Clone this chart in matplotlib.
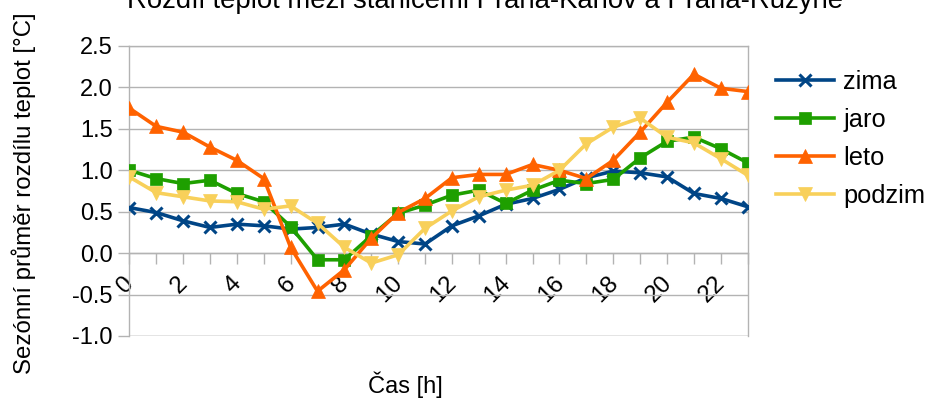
import matplotlib
matplotlib.use("Agg")
import matplotlib.pyplot as plt
import matplotlib.transforms as mtrans
import numpy as np

plt.rcParams['font.family'] = ['Liberation Sans', 'DejaVu Sans']

hours = list(range(24))
zima = [0.55, 0.49, 0.39, 0.31, 0.35, 0.33, 0.29, 0.31, 0.35, 0.23, 0.14, 0.11,
        0.33, 0.45, 0.59, 0.66, 0.77, 0.91, 0.99, 0.97, 0.92, 0.72, 0.66, 0.56]
jaro = [1.00, 0.90, 0.84, 0.88, 0.72, 0.62, 0.32, -0.08, -0.08, 0.21, 0.48, 0.58,
        0.70, 0.76, 0.60, 0.76, 0.88, 0.84, 0.89, 1.15, 1.35, 1.40, 1.26, 1.09]
leto = [1.75, 1.53, 1.46, 1.28, 1.12, 0.90, 0.07, -0.46, -0.20, 0.18, 0.49, 0.66,
        0.91, 0.95, 0.95, 1.07, 1.00, 0.90, 1.12, 1.46, 1.82, 2.16, 1.99, 1.95]
podzim = [0.92, 0.73, 0.68, 0.63, 0.62, 0.53, 0.57, 0.36, 0.07, -0.12, -0.02, 0.30,
          0.51, 0.68, 0.76, 0.82, 1.00, 1.32, 1.52, 1.63, 1.40, 1.33, 1.14, 0.94]
series_names = ['zima', 'jaro', 'leto', 'podzim']

colors = ['#004586', '#1e9f00', '#ff6200', '#f8d05a']
markers = ['x', 's', '^', 'v']
msizes = [9, 8.5, 10, 10]

fig = plt.figure(figsize=(9.32, 4.0), dpi=100)
W = 747.7 - 129.3
H = 290.0
ax = fig.add_axes([129.3/932, 1-336/400, W/932, H/400])

for data, name, c, m, ms in zip([zima, jaro, leto, podzim], series_names, colors, markers, msizes):
    ax.plot(hours, data, color=c, lw=2.6, marker=m, markersize=ms,
            markeredgewidth=2.2 if m == 'x' else 0.5, markeredgecolor=c, label=name, zorder=3)

gc = '#b3b3b3'
for s in ['left', 'right', 'top', 'bottom']:
    ax.spines[s].set_color(gc)
    ax.spines[s].set_linewidth(1.0)
ax.spines['bottom'].set_position(('data', 0))

ax.set_xlim(0, 23)
ax.set_ylim(-1.0, 2.5)
ax.grid(axis='y', color=gc, lw=1.0, zorder=0)
ax.grid(axis='x', visible=False)
ax.axhline(-1.0, color=gc, lw=1.0, zorder=0)
ax.tick_params(axis='both', colors=gc, labelcolor='black', length=8, width=1.0, direction='out')
ax.tick_params(axis='y', pad=4)

yt = np.arange(-1.0, 2.51, 0.5)
ax.set_yticks(yt)
ax.set_yticklabels([f"{v:.1f}" for v in yt], fontsize=17)
ax.set_xticks(hours)
ax.set_xticklabels([str(h) if h % 2 == 0 else '' for h in hours], fontsize=17.5,
                   rotation=45, ha='right')
off = mtrans.ScaledTranslation(9/100, -3/100, fig.dpi_scale_trans)
for lab in ax.get_xticklabels():
    lab.set_transform(lab.get_transform() + off)

ax.set_xlabel('Čas [h]', fontsize=17)
ax.xaxis.set_label_coords((405 - 129.3) / W, -(372 - 336) / H)
ax.set_ylabel('Sezónní průměr rozdílu teplot [°C]', fontsize=17.3)
ax.yaxis.set_label_coords(-(129.3 - 36) / W, (336 - 193) / H)

fig.text(485/932, 1 - 8/400, 'Rozdíl teplot mezi stanicemi Praha-Karlov a Praha-Ruzyně',
         ha='center', va='baseline', fontsize=19.8)

leg = fig.legend(loc='upper left', bbox_to_anchor=(776/932, 1 - 70/400), frameon=False,
                 fontsize=18.3, handlelength=2.3, handletextpad=0.35, labelspacing=0.55,
                 borderaxespad=0, borderpad=0)

fig.savefig('out.png', dpi=100)
